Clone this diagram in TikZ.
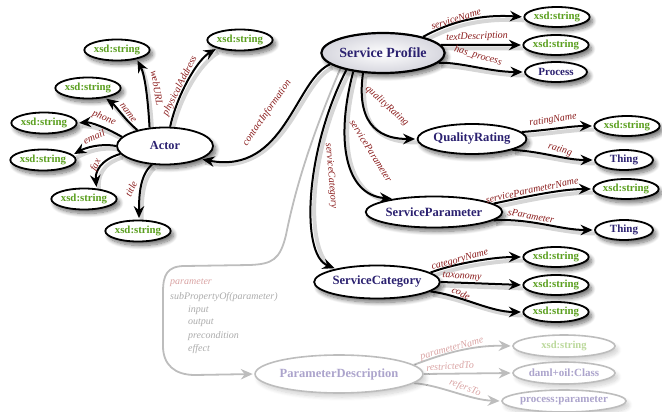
\documentclass[tikz,border=0pt]{standalone}
\usepackage{fontspec}
\setmainfont{Liberation Serif}
\usetikzlibrary{shapes.geometric,arrows.meta,shadows.blur}
\definecolor{ncol}{HTML}{2B2170}
\definecolor{gcol}{HTML}{5A9F1E}
\definecolor{lcol}{HTML}{8A1C1C}
\definecolor{fline}{HTML}{BDBDBD}
\definecolor{fncol}{HTML}{ACA4CC}
\definecolor{fgcol}{HTML}{BCD99C}
\definecolor{flcol}{HTML}{D9A3A3}
\definecolor{ftcol}{HTML}{ABABAB}
\definecolor{spfill}{HTML}{D6D6DE}
\pgfdeclarelayer{bg}
\pgfsetlayers{bg,main}
\tikzset{
  shd/.style={blur shadow={shadow xshift=3pt, shadow yshift=-4pt, shadow blur steps=10, shadow blur radius=4pt, shadow opacity=55}},
  ell/.style={ellipse, draw=black, line width=1.8pt, fill=white, inner sep=0pt, shd},
  cls/.style={ell, text=ncol, font=\bfseries\fontsize{12.6}{14}\selectfont},
  typ/.style={ell, minimum width=59pt, minimum height=21pt, text=gcol, font=\bfseries\fontsize{10.8}{12}\selectfont},
  thing/.style={ell, minimum width=58pt, minimum height=20pt, text=ncol, font=\bfseries\fontsize{11}{12}\selectfont},
  fade/.style={ellipse, draw=fline, line width=1.6pt, fill=white, inner sep=0pt, minimum width=102pt, minimum height=22pt, font=\bfseries\fontsize{11}{12}\selectfont, blur shadow={shadow xshift=3pt, shadow yshift=-4pt, shadow blur steps=8, shadow blur radius=4pt, shadow opacity=18}},
  tip/.style={-{Stealth[length=12pt,width=10.5pt,inset=4pt]}, shorten >=1.5pt},
  conn/.style={line width=2pt, draw=black, tip, preaction={draw=black, draw opacity=0.16, line width=4pt, arrows=-, transform canvas={shift={(2.5pt,-3.5pt)}}}},
  fconn/.style={line width=1.8pt, draw=fline, tip},
  lbl/.style={inner sep=0pt, text=lcol, font=\itshape\fontsize{10}{12}\selectfont},
  flbl/.style={lbl, text=flcol},
  gtxt/.style={anchor=west, inner sep=0pt, text=ftcol, font=\itshape\fontsize{10}{12}\selectfont},
}
\begin{document}
\begin{tikzpicture}[x=1pt,y=-1pt]
\useasboundingbox (0,0) rectangle (662,412);
% ---------- nodes
\node[cls, minimum width=110pt, minimum height=40pt, line width=2.2pt, inner color=white, outer color=spfill, font=\bfseries\fontsize{14}{16}\selectfont] (SP) at (383,53) {Service Profile};
\node[cls, minimum width=96pt, minimum height=37pt, font=\bfseries\fontsize{12.3}{14}\selectfont] (Actor) at (165,146) {Actor};
\node[typ] (xPA) at (240,40) {xsd:string};
\node[typ] (xWeb) at (117,50) {xsd:string};
\node[typ] (xName) at (88,88) {xsd:string};
\node[typ] (xPhone) at (44,123) {xsd:string};
\node[typ] (xEmail) at (43,160) {xsd:string};
\node[typ] (xFax) at (84,199) {xsd:string};
\node[typ] (xTitle) at (138,231) {xsd:string};
\node[typ, minimum width=62pt, minimum height=20pt] (xSN) at (557,17) {xsd:string};
\node[typ, minimum width=62pt, minimum height=20pt] (xTD) at (556,45) {xsd:string};
\node[thing, minimum width=62pt] (Proc) at (556,72) {Process};
\node[cls, minimum width=105pt, minimum height=30pt] (QR) at (472,139) {QualityRating};
\node[typ, minimum width=62pt, minimum height=20pt] (xRN) at (627,126) {xsd:string};
\node[thing] (ThQ) at (624,160) {Thing};
\node[cls, minimum width=105pt, minimum height=31pt] (SPar) at (434,212) {ServiceParameter};
\node[typ, minimum width=60pt, minimum height=20pt] (xSPN) at (626,189) {xsd:string};
\node[thing] (ThS) at (624,230) {Thing};
\node[cls, minimum width=99pt, minimum height=33pt] (SC) at (377,282) {ServiceCategory};
\node[typ, minimum width=59pt, minimum height=20pt] (xCN) at (556,257) {xsd:string};
\node[typ, minimum width=59pt, minimum height=20pt] (xTax) at (556,285) {xsd:string};
\node[typ, minimum width=59pt, minimum height=20pt] (xCode) at (556,312) {xsd:string};
\node[fade, minimum width=138pt, minimum height=38pt, text=fncol, font=\bfseries\fontsize{12.5}{14}\selectfont] (PD) at (339,374) {ParameterDescription};
\node[fade, text=fgcol, font=\bfseries\fontsize{10.6}{12}\selectfont] (fX) at (564,346) {xsd:string};
\node[fade, text=fncol] (fD) at (564,373) {daml+oil:Class};
\node[fade, text=fncol] (fP) at (564,401) {process:parameter};
% ---------- connectors
\begin{pgfonlayer}{bg}
\draw[conn] (Actor.75) .. controls (177,95) and (197,60) .. (xPA.200);
\draw[conn] (Actor.130) .. controls (148,100) and (145,75) .. (xWeb.-25);
\draw[conn] (Actor.150) .. controls (125,120) and (115,105) .. (xName.-30);
\draw[conn] (Actor.168) .. controls (105,127) and (90,122) .. (xPhone.east);
\draw[conn] (Actor.180) .. controls (100,143) and (85,148) .. (xEmail.10);
\draw[conn] (Actor.190) .. controls (100,160) and (95,172) .. (xFax.40);
\draw[conn] (Actor.-125) .. controls (140,175) and (139,195) .. (xTitle.85);
\draw[conn] (SP.-168) .. controls (295,80) and (285,175) .. (Actor.-20);
\draw[conn] (SP.22) .. controls (450,22) and (480,14) .. (xSN.west);
\draw[conn] (SP.8) -- (xTD.west);
\draw[conn] (SP.-10) .. controls (460,62) and (490,72) .. (Proc.west);
\draw[conn] (SP.-135) .. controls (355,130) and (385,139) .. (QR.west);
\draw[conn] (SP.-148) .. controls (335,140) and (345,195) .. (SPar.162);
\draw[conn] (SP.-155) .. controls (305,150) and (300,255) .. (SC.162);
\draw[conn] (QR.8) .. controls (550,130) and (570,126) .. (xRN.west);
\draw[conn] (QR.-15) .. controls (545,152) and (565,160) .. (ThQ.west);
\draw[conn] (SPar.8) .. controls (520,198) and (560,189) .. (xSPN.west);
\draw[conn] (SPar.-8) .. controls (530,218) and (560,230) .. (ThS.west);
\draw[conn] (SC.10) .. controls (450,265) and (490,257) .. (xCN.west);
\draw[conn] (SC.east) -- (xTax.west);
\draw[conn] (SC.-10) .. controls (460,295) and (490,312) .. (xCode.west);
\draw[fconn] (SP.-160) .. controls (310,140) and (295,190) .. (286,235) .. controls (280,260) and (272,264) .. (250,265) -- (185,266) .. controls (167,266) and (163,275) .. (163,292) -- (163,346) .. controls (163,365) and (175,375) .. (195,375) -- (PD.west);
\draw[fconn] (PD.7) .. controls (440,355) and (470,345) .. (fX.west);
\draw[fconn] (PD.east) -- (fD.west);
\draw[fconn] (PD.-7) .. controls (440,385) and (470,400) .. (fP.west);
\end{pgfonlayer}
% ---------- labels
\node[lbl, rotate=63] (lPA) at (180,86) {physicalAddress};
\node[lbl, rotate=-80] (lWeb) at (157,88) {webURL};
\node[lbl, rotate=-53] (lName) at (128,113) {name};
\node[lbl, rotate=-22] (lPhone) at (104,118) {phone};
\node[lbl, rotate=23] (lEmail) at (94,137) {email};
\node[lbl, rotate=63] (lFax) at (96,165) {fax};
\node[lbl, rotate=65] (lTitle) at (131,189) {title};
\node[lbl, rotate=55] (lCI) at (267,113) {contactInformation};
\node[lbl, rotate=17] (lSN) at (456,19) {serviceName};
\node[lbl, rotate=2] (lTD) at (477,37) {textDescription};
\node[lbl, rotate=-16] (lHP) at (478,56) {has\_process};
\node[lbl, rotate=-42] (lQR) at (387,106) {qualityRating};
\node[lbl, rotate=-58] (lSPar) at (371,151) {serviceParameter};
\node[lbl, rotate=-85] (lSC) at (331,176) {serviceCategory};
\node[lbl, rotate=9] (lRN) at (553,120) {ratingName};
\node[lbl, rotate=-17] (lR) at (560,150) {rating};
\node[lbl, rotate=12] (lSPN) at (532,190) {serviceParameterName};
\node[lbl, rotate=-10] (lSPm) at (531,216) {sParameter};
\node[lbl, rotate=15] (lCN) at (460,260) {categoryName};
\node[lbl, rotate=-4] (lTax) at (462,277) {taxonomy};
\node[lbl, rotate=-25] (lCode) at (461,293) {code};
\node[flbl, rotate=15] (lPN) at (452,349) {parameterName};
\node[flbl, rotate=4] (lRT) at (450,366) {restrictedTo};
\node[flbl, rotate=-20] (lRef) at (465,388) {refersTo};
\node[gtxt, text=flcol] (t1) at (170,283) {parameter};
\node[gtxt] (t2) at (170,297) {subPropertyOf(parameter)};
\node[gtxt] (t3) at (188,310) {input};
\node[gtxt] (t4) at (188,323) {output};
\node[gtxt] (t5) at (188,336) {precondition};
\node[gtxt] (t6) at (188,349) {effect};
\end{tikzpicture}
\end{document}
